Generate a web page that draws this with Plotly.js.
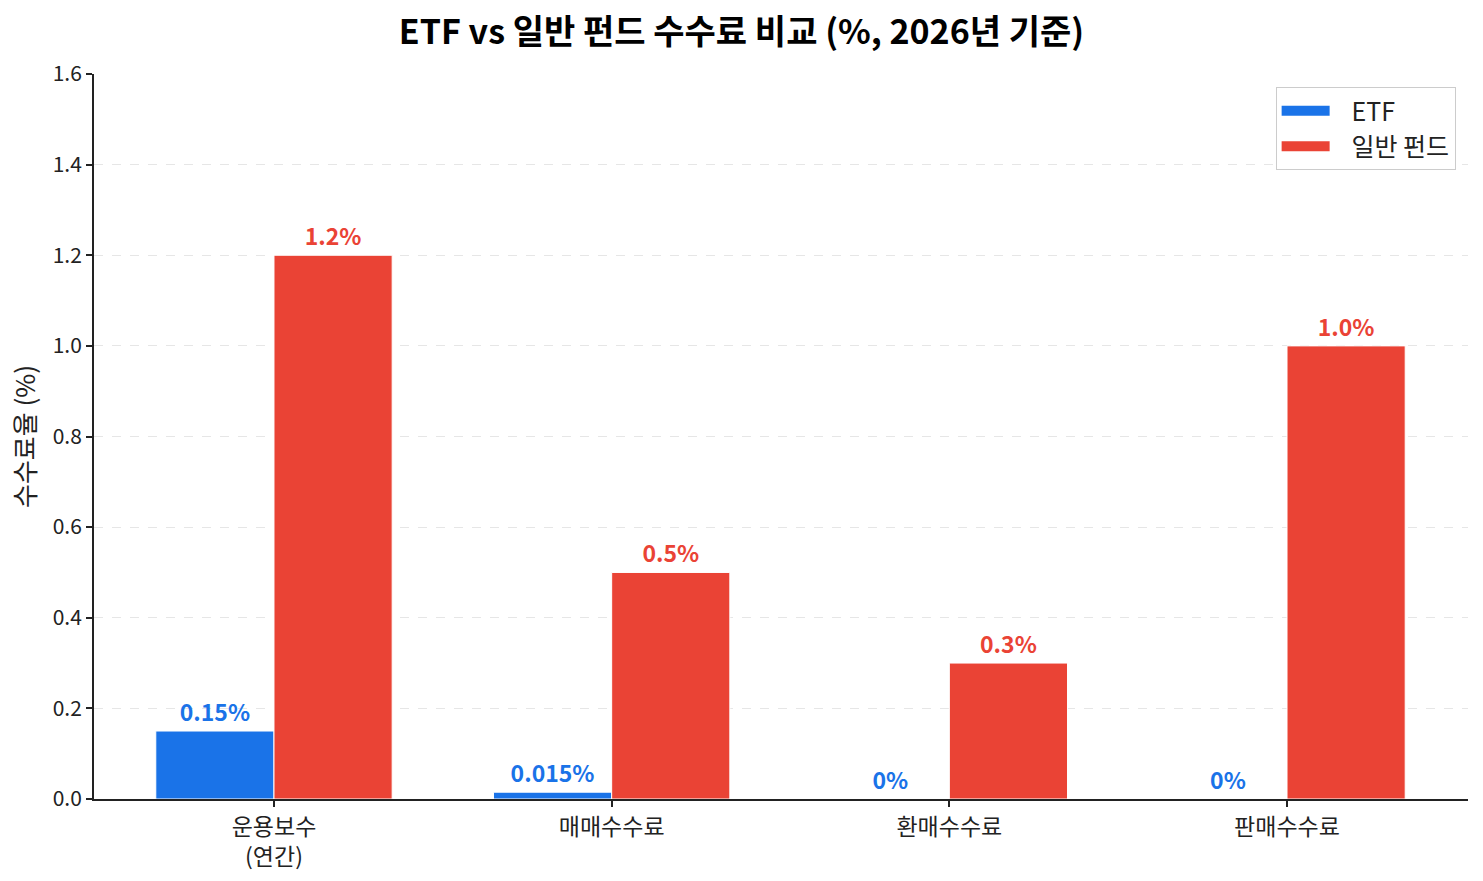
<!DOCTYPE html>
<html>
<head>
<meta charset="utf-8">
<script src="https://cdn.plot.ly/plotly-3.0.1.min.js"></script>
<style>
  html, body {margin: 0; padding: 0; background: #fff;}
  #chart {width: 1483px; height: 881px;}
</style>
</head>
<body>
<div id="chart"></div>
<script>
// data
const categories = ['운용보수<br>(연간)', '매매수수료', '환매수수료', '판매수수료'];
const series_names = ['ETF', '일반 펀드'];
const etf_values = [0.15, 0.015, 0, 0];
const fund_values = [1.2, 0.5, 0.3, 1.0];
const etf_labels = ['0.15%', '0.015%', '0%', '0%'];
const fund_labels = ['1.2%', '0.5%', '0.3%', '1.0%'];
const y_ticks = [0, 0.2, 0.4, 0.6, 0.8, 1.0, 1.2, 1.4, 1.6];

const FONT = 'Noto Sans CJK KR, Noto Sans, sans-serif';
const ETF_COLOR = '#1a73e8';
const FUND_COLOR = '#ea4335';

function bar_trace(name, values, labels, color) {
    return {
        type: 'bar',
        name: name,
        x: categories,
        y: values,
        text: labels,
        textposition: 'outside',
        cliponaxis: false,
        showlegend: false,
        textfont: {family: FONT, size: 23, color: color, weight: 'bold'},
        marker: {color: color, line: {color: '#ffffff', width: 1}}
    };
}

// legend-only traces so the legend shows wide patches like the original
// (non-breaking spaces push the text away from the patch)
function legend_trace(name, color) {
    return {
        type: 'scatter',
        mode: 'lines',
        name: '\u00a0\u00a0\u00a0' + name,
        x: [null],
        y: [null],
        line: {color: color, width: 16},
        hoverinfo: 'skip'
    };
}

let data = [
    bar_trace(series_names[0], etf_values, etf_labels, ETF_COLOR),
    bar_trace(series_names[1], fund_values, fund_labels, FUND_COLOR),
    legend_trace(series_names[0], ETF_COLOR),
    legend_trace(series_names[1], FUND_COLOR)
];

let layout = {
    width: 1483,
    height: 881,
    margin: {l: 94, r: 15, t: 74, b: 82},
    paper_bgcolor: '#ffffff',
    plot_bgcolor: '#ffffff',
    font: {family: FONT, size: 21, color: '#222222'},
    title: {
        text: '<b>ETF vs 일반 펀드 수수료 비교 (%, 2026년 기준)</b>',
        font: {family: FONT, size: 34, color: '#000000'},
        x: 0.5,
        xanchor: 'center',
        y: 0.963,
        yanchor: 'middle'
    },
    barmode: 'group',
    bargap: 0.3,
    bargroupgap: 0,
    showlegend: true,
    legend: {
        x: 0.991,
        xanchor: 'right',
        y: 0.982,
        yanchor: 'top',
        bgcolor: '#ffffff',
        bordercolor: '#cccccc',
        borderwidth: 1,
        font: {family: FONT, size: 25, color: '#222222'},
        itemwidth: 48,
        tracegroupgap: 0
    },
    xaxis: {
        type: 'category',
        range: [-0.533, 3.536],
        showline: true,
        linecolor: '#222222',
        linewidth: 2,
        ticks: 'outside',
        ticklen: 6,
        tickwidth: 1.5,
        tickcolor: '#222222',
        showgrid: false,
        zeroline: false,
        tickfont: {family: FONT, size: 23, color: '#222222'}
    },
    yaxis: {
        range: [0, 1.6],
        tickvals: y_ticks,
        ticktext: y_ticks.map(v => v.toFixed(1)),
        showline: true,
        linecolor: '#222222',
        linewidth: 2,
        ticks: 'outside',
        ticklen: 6,
        tickwidth: 1.5,
        tickcolor: '#222222',
        showgrid: true,
        gridcolor: '#e6e6e6',
        griddash: 'dash',
        gridwidth: 1,
        zeroline: false,
        tickfont: {family: FONT, size: 21, color: '#222222'},
        title: {text: '수수료율 (%)', font: {family: FONT, size: 26, color: '#222222'}, standoff: 10}
    }
};

let config = {responsive: false, displayModeBar: false};
Plotly.newPlot('chart', data, layout, config);
</script>
</body>
</html>
